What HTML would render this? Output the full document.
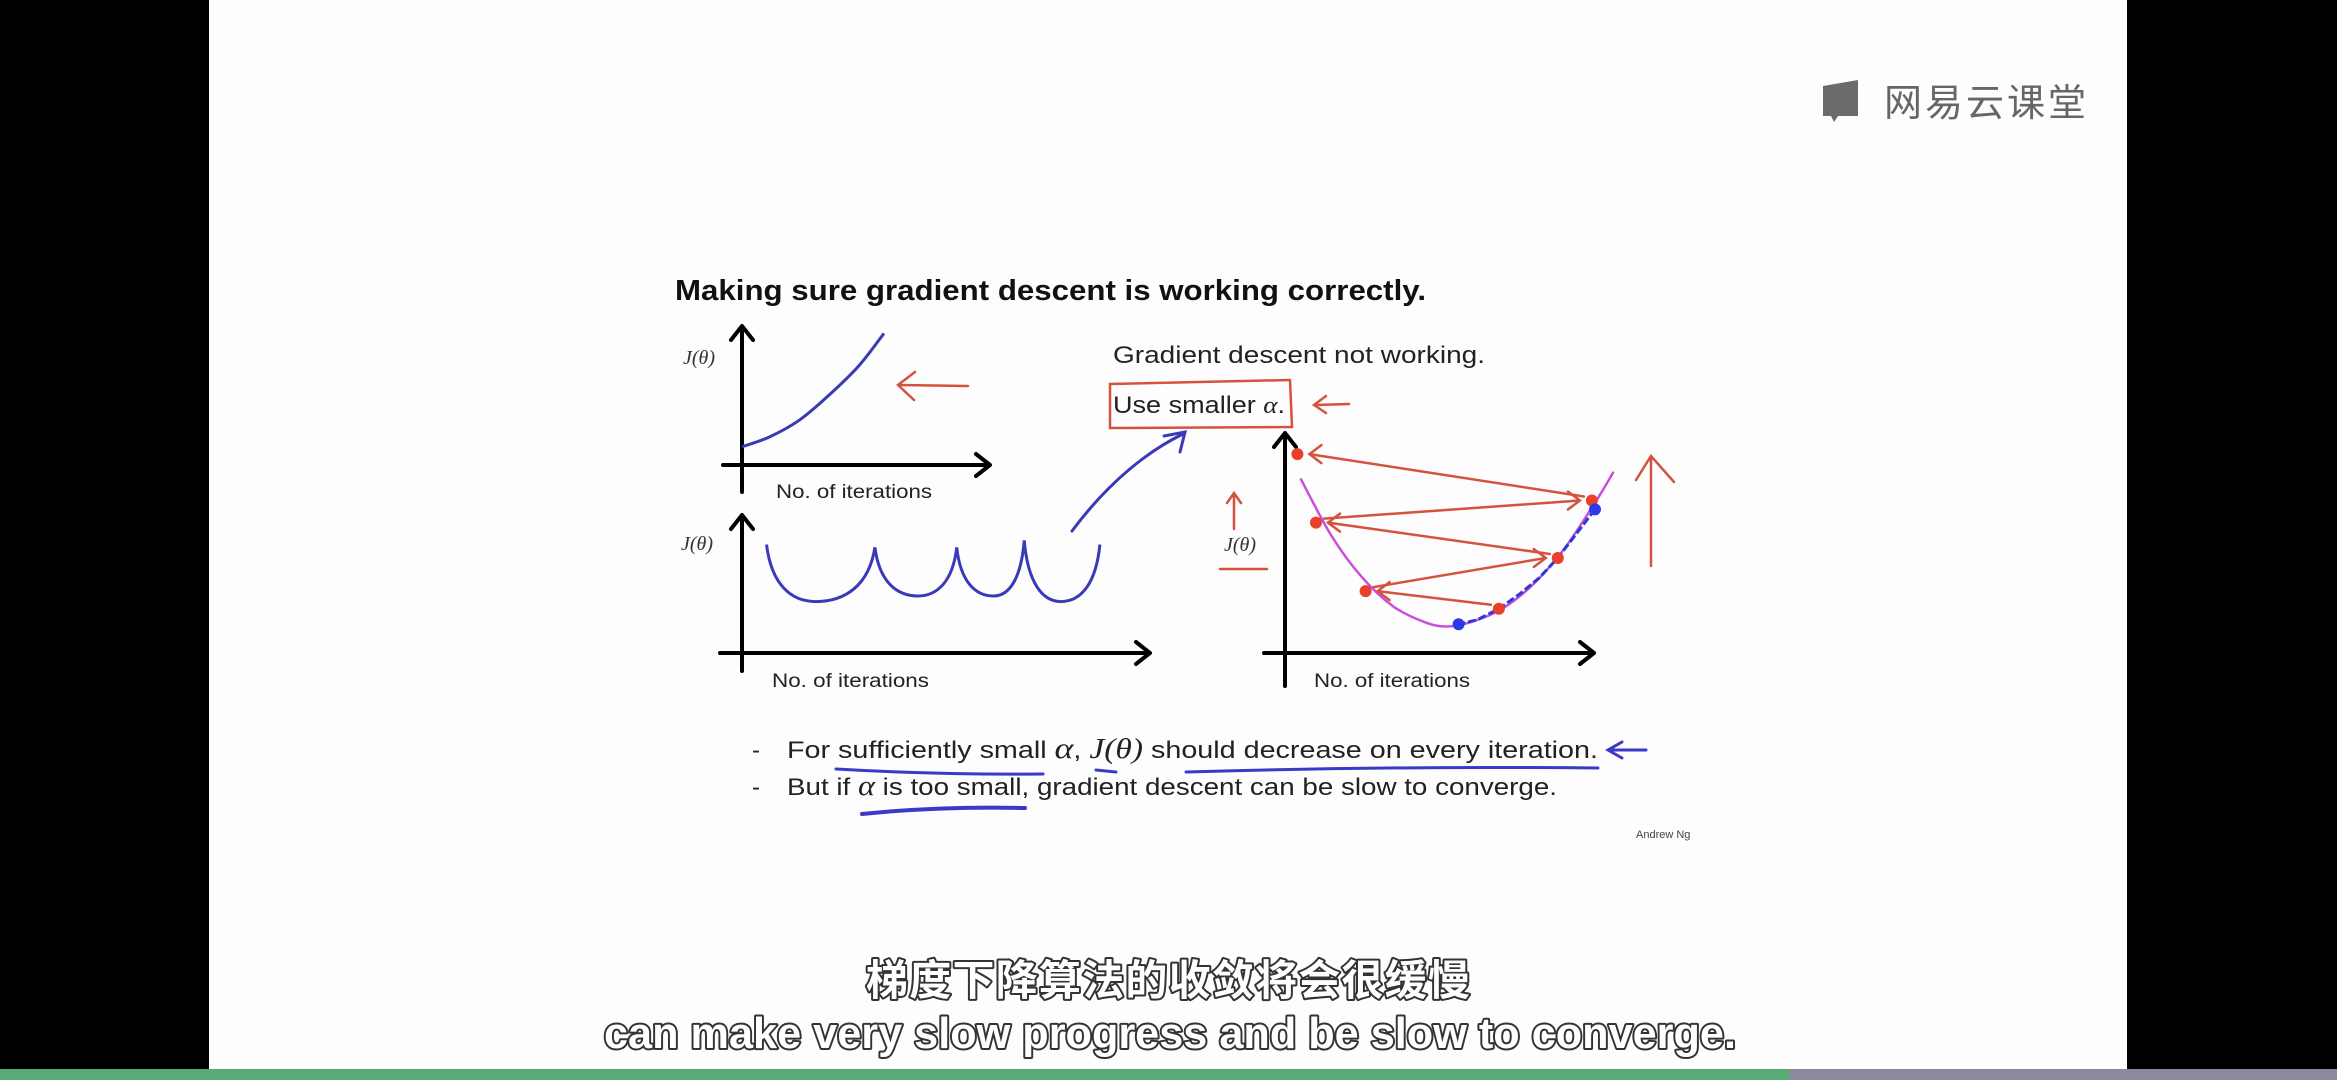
<!DOCTYPE html>
<html><head><meta charset="utf-8">
<style>
html,body{margin:0;padding:0;background:#000;}
body{width:2337px;height:1080px;overflow:hidden;position:relative;font-family:"Liberation Sans","Noto Sans CJK SC",sans-serif;}
svg{position:absolute;left:0;top:0;}
</style></head>
<body>
<svg id="s" width="2337" height="1080" viewBox="0 0 2337 1080" xmlns="http://www.w3.org/2000/svg">
  <rect x="0" y="0" width="2337" height="1080" fill="#000"/>
  <rect x="209" y="0" width="1918" height="1080" fill="#fdfdfd"/>
  <g>
    <path d="M1823 86 L1858 80 L1858 116 L1838 116 L1834 122 L1831 116 L1823 116 Z" fill="#6b6b6b"/>
    <text x="1884" y="116" font-size="38" fill="#666" font-family="'Noto Sans CJK SC',sans-serif" textLength="202">网易云课堂</text>
  </g>
  <text x="675" y="300" font-size="29" font-weight="bold" fill="#111" textLength="751" lengthAdjust="spacingAndGlyphs">Making sure gradient descent is working correctly.</text>

  <g id="axes" stroke="#000" stroke-width="4" fill="none" stroke-linecap="round" stroke-linejoin="round">
    <path d="M742 492 L742 327 M731 340 L742 326 L753 340"/>
    <path d="M723 465 L989 465 M976 454 L990 465 L976 476"/>
    <path d="M742 671 L742 516 M731 529 L742 515 L753 529"/>
    <path d="M720 653 L1149 653 M1136 642 L1150 653 L1136 664"/>
    <path d="M1285 686 L1285 434 M1274 447 L1285 433 L1296 447"/>
    <path d="M1264 653 L1593 653 M1580 642 L1594 653 L1580 664"/>
  </g>
  <g font-family="'Liberation Serif',serif" font-style="italic" font-size="20" fill="#333">
    <text x="683" y="364">J(θ)</text>
    <text x="681" y="550">J(θ)</text>
    <text x="1224" y="551">J(θ)</text>
  </g>
  <g font-size="19" fill="#222">
    <text x="776" y="498" textLength="156" lengthAdjust="spacingAndGlyphs">No. of iterations</text>
    <text x="772" y="687" textLength="157" lengthAdjust="spacingAndGlyphs">No. of iterations</text>
    <text x="1314" y="687" textLength="156" lengthAdjust="spacingAndGlyphs">No. of iterations</text>
  </g>
  <text x="1113" y="363" font-size="24" fill="#222" textLength="372" lengthAdjust="spacingAndGlyphs">Gradient descent not working.</text>
  <text x="1113" y="413" font-size="24" fill="#222" textLength="172" lengthAdjust="spacingAndGlyphs">Use smaller <tspan font-family="'Liberation Serif',serif" font-style="italic">α</tspan>.</text>

  <g fill="none" stroke="#d4533e" stroke-width="2.5" stroke-linecap="round">
    <path d="M1110 384 L1290 380 L1292 427 L1110 428 Z"/>
    <path d="M900 385 L968 386 M915 372 L898 385 L914 400"/>
    <path d="M1316 405 L1349 404 M1326 396 L1314 405 L1326 413"/>
    <path d="M1234 529 L1234 494 M1227 503 L1234 493 L1241 503"/>
    <path d="M1220 569 L1267 569"/>
    <path d="M1651 566 L1651 458 M1636 480 L1651 456 L1674 482"/>
  </g>
  <path d="M1072 531 C1110 480 1150 450 1183 434 M1164 436 L1185 432 L1180 452" fill="none" stroke="#3a3ab8" stroke-width="3" stroke-linecap="round"/>

  <g id="plots"></g>

  <g font-size="24" fill="#222">
    <text x="752" y="758">-</text>
    <text x="787" y="758" textLength="811" lengthAdjust="spacingAndGlyphs">For sufficiently small <tspan font-family="'Liberation Serif',serif" font-style="italic" font-size="30">α</tspan>,  <tspan font-family="'Liberation Serif',serif" font-style="italic" font-size="28">J(θ)</tspan> should decrease on every iteration.</text>
    <text x="752" y="795">-</text>
    <text x="787" y="795" textLength="770" lengthAdjust="spacingAndGlyphs">But if <tspan font-family="'Liberation Serif',serif" font-style="italic" font-size="28">α</tspan> is too small, gradient descent can be slow to converge.</text>
  </g>
  <g fill="none" stroke="#3a3ac8" stroke-width="3" stroke-linecap="round">
    <path d="M836 769 Q940 775 1043 774"/>
    <path d="M1096 770 L1116 772"/>
    <path d="M1186 772 Q1390 766 1598 768"/>
    <path d="M862 814 Q940 806 1025 808" stroke-width="4"/>
    <path d="M1610 750 L1646 750 M1622 742 L1608 750 L1622 758"/>
  </g>
  <text x="1636" y="838" font-size="11" fill="#444">Andrew Ng</text>

  <g font-weight="bold" fill="#fff" stroke="#333" stroke-width="4" paint-order="stroke" stroke-linejoin="round">
    <text x="1168" y="995" text-anchor="middle" font-size="42" font-family="'Noto Sans CJK SC',sans-serif" textLength="604">梯度下降算法的收敛将会很缓慢</text>
    <text x="1170" y="1048" text-anchor="middle" font-size="44" textLength="1132" lengthAdjust="spacingAndGlyphs">can make very slow progress and be slow to converge.</text>
  </g>
  <rect x="0" y="1069" width="1789" height="11" fill="#5aaa76"/>
  <rect x="1789" y="1069" width="548" height="11" fill="#8a8a9a"/>
</svg>
<script>
// chart 1: diverging J
const c1Iter = [0, 1.1, 2.3, 3.5, 4.7, 5.7];
const c1J = [1.3, 2.0, 3.2, 5.0, 7.1, 9.4];
// chart 2: oscillating J (start, min, peak, min, peak, min, peak, min, end)
const c2Iter = [0.6, 1.8, 3.25, 4.3, 5.25, 6.15, 6.9, 7.8, 8.75];
const c2J = [7.8, 3.7, 7.6, 4.1, 7.6, 4.1, 8.1, 3.7, 7.8];
// chart 3: cost curve J(theta)
const c3Theta = [0.5, 1.5, 2.5, 3.5, 4.5, 5.2, 6, 7, 8, 9, 10, 10.6];
const c3J = [7.9, 5.3, 3.4, 2.1, 1.4, 1.2, 1.4, 2.0, 3.1, 4.7, 6.8, 8.2];
// overshooting steps (order of jumps)
const stepTheta = [6.9, 2.6, 8.8, 1.0, 9.9, 0.4];
const stepJ = [2.0, 2.8, 4.3, 5.9, 6.9, 9.0];
// slow small-alpha steps
const slowTheta = [10.0, 9.4, 8.8, 8.2, 7.6, 6.9, 6.2, 5.6];
const slowJ = [6.5, 5.4, 4.3, 3.4, 2.7, 2.0, 1.5, 1.3];

const NS = 'http://www.w3.org/2000/svg';
const g = document.getElementById('plots');
const x1 = v => 742 + v * 24.9, y1 = v => 465 - v * 14;
const x2 = v => 742 + v * 40.9, y2 = v => 653 - v * 13.9;
const x3 = v => 1285 + v * 31, y3 = v => 653 - v * 22.1;
function mk(tag, attrs) { const e = document.createElementNS(NS, tag); for (const k in attrs) e.setAttribute(k, attrs[k]); g.appendChild(e); return e; }
function smooth(pts) {
  let d = 'M' + pts[0][0] + ' ' + pts[0][1];
  for (let i = 0; i < pts.length - 1; i++) {
    const p0 = pts[i - 1] || pts[i], p1 = pts[i], p2 = pts[i + 1], p3 = pts[i + 2] || p2;
    d += ' C' + (p1[0] + (p2[0] - p0[0]) / 6) + ' ' + (p1[1] + (p2[1] - p0[1]) / 6) + ' ' + (p2[0] - (p3[0] - p1[0]) / 6) + ' ' + (p2[1] - (p3[1] - p1[1]) / 6) + ' ' + p2[0] + ' ' + p2[1];
  }
  return d;
}
let e = mk('path', { d: smooth(c1Iter.map((v, i) => [x1(v), y1(c1J[i])])), fill: 'none', stroke: '#3a3ab8', 'stroke-width': 3 });


// chart 2 scallops
let pts2 = c2Iter.map((v, i) => [x2(v), y2(c2J[i])]);
let d2 = 'M' + pts2[0][0] + ' ' + pts2[0][1];
for (let i = 0; i < pts2.length - 1; i++) {
  const a = pts2[i], b = pts2[i + 1], dx = b[0] - a[0];
  if (b[1] > a[1]) d2 += ' C' + (a[0] + 0.1 * dx) + ' ' + (a[1] + 0.7 * (b[1] - a[1])) + ' ' + (b[0] - 0.5 * dx) + ' ' + b[1] + ' ' + b[0] + ' ' + b[1];
  else d2 += ' C' + (a[0] + 0.5 * dx) + ' ' + a[1] + ' ' + (b[0] - 0.1 * dx) + ' ' + (b[1] + 0.7 * (a[1] - b[1])) + ' ' + b[0] + ' ' + b[1];
}
e = mk('path', { d: d2, fill: 'none', stroke: '#3a3ab8', 'stroke-width': 3 });


e = mk('path', { d: smooth(c3Theta.map((v, i) => [x3(v), y3(c3J[i])])), fill: 'none', stroke: '#c84fd8', 'stroke-width': 2.5 });


// overshoot arrows
for (let i = 0; i < stepTheta.length - 1; i++) {
  const ax = x3(stepTheta[i]), ay = y3(stepJ[i]), bx = x3(stepTheta[i + 1]), by = y3(stepJ[i + 1]);
  const dir = bx > ax ? -1 : 1;
  const ex = bx + dir * 12, ey = by;
  e = mk('path', { d: 'M' + (ax - dir * 8) + ' ' + (ay - 4) + ' L' + ex + ' ' + ey + ' M' + (ex + dir * 12) + ' ' + (ey - 9) + ' L' + ex + ' ' + ey + ' L' + (ex + dir * 12) + ' ' + (ey + 9), fill: 'none', stroke: '#d4533e', 'stroke-width': 2.5, 'stroke-linecap': 'round' });
  
  
}
// slow steps
e = mk('path', { d: 'M' + slowTheta.map((v, i) => x3(v) + ' ' + y3(slowJ[i])).join(' L'), fill: 'none', stroke: '#2a3ad8', 'stroke-width': 3, 'stroke-dasharray': '8 3' });


for (let i = 0; i < stepTheta.length; i++) {
  e = mk('circle', { cx: x3(stepTheta[i]), cy: y3(stepJ[i]), r: 6, fill: '#e8402a' });
  
  
}
[[slowTheta[0], slowJ[0]], [slowTheta[slowTheta.length - 1], slowJ[slowJ.length - 1]]].forEach(p => {
  e = mk('circle', { cx: x3(p[0]), cy: y3(p[1]), r: 6, fill: '#2a3ae8' });
  
  
});
</script>
</body></html>
